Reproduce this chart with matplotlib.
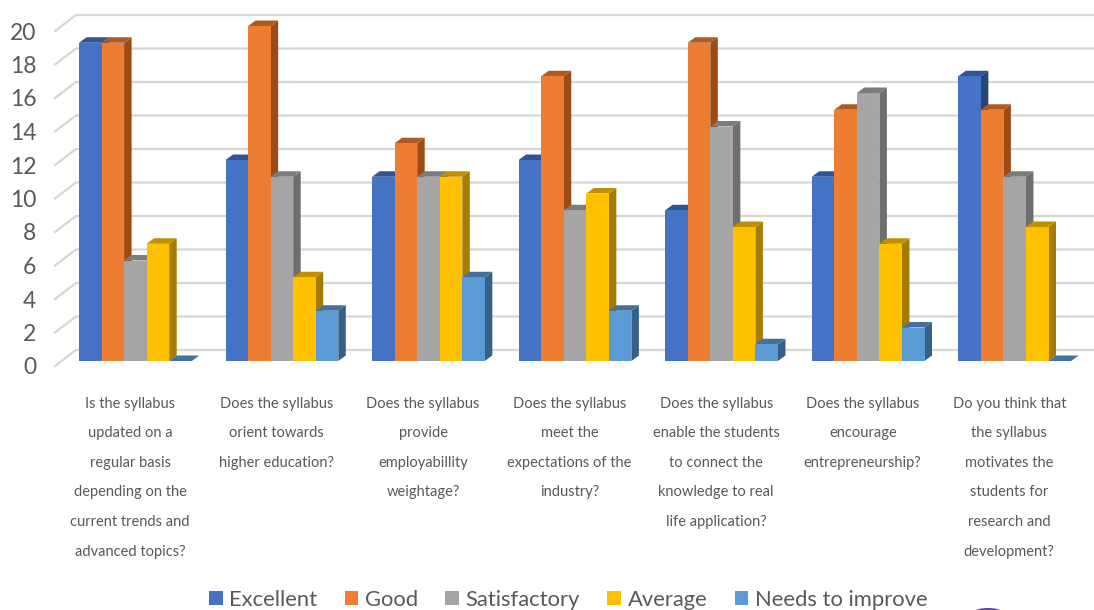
import matplotlib
matplotlib.use("Agg")
import matplotlib.pyplot as plt
from matplotlib.patches import Polygon, Patch, Ellipse

questions = [
    "Is the syllabus\nupdated on a\nregular basis\ndepending on the\ncurrent trends and\nadvanced topics?",
    "Does the syllabus\norient towards\nhigher education?",
    "Does the syllabus\nprovide\nemployabillity\nweightage?",
    "Does the syllabus\nmeet the\nexpectations of the\nindustry?",
    "Does the syllabus\nenable the students\nto connect the\nknowledge to real\nlife application?",
    "Does the syllabus\nencourage\nentrepreneurship?",
    "Do you think that\nthe syllabus\nmotivates the\nstudents for\nresearch and\ndevelopment?",
]
series_names = ["Excellent", "Good", "Satisfactory", "Average", "Needs to improve"]
excellent = [19, 12, 11, 12, 9, 11, 17]
good = [19, 20, 13, 17, 19, 15, 15]
satisfactory = [6, 11, 11, 9, 14, 16, 11]
average = [7, 5, 11, 10, 8, 7, 8]
needs_to_improve = [0, 3, 5, 3, 1, 2, 0]
y_ticks = list(range(0, 21, 2))

all_series = [excellent, good, satisfactory, average, needs_to_improve]
front_colors = ["#4472c4", "#ed7d31", "#a5a5a5", "#ffc000", "#5b9bd5"]
top_colors = ["#2f5597", "#ae5a21", "#7c7c7c", "#bf9000", "#41719c"]
side_colors = ["#264478", "#9e4a14", "#6e6e6e", "#a67c00", "#376088"]

W, H = 1094, 610
PX_X = 146.55   # pixels per category
PX_Y = 16.75    # pixels per value unit

plt.rcParams["font.family"] = ["Lato", "DejaVu Sans"]
fig = plt.figure(figsize=(W / 100, H / 100), dpi=100, facecolor="white")
ax = fig.add_axes([55 / W, (H - 366) / H, (W - 55) / W, 351 / H])
ax.set_xlim((55 - 130) / PX_X, (W - 130) / PX_X)
ax.set_ylim(0, 351 / PX_Y)
for spine in ax.spines.values():
    spine.set_visible(False)

# Receding wall gridlines: a short diagonal on the floor side, then the back wall
wall_dx, wall_dy = 21 / PX_X, 16 / PX_Y
x_wall = (55 - 130) / PX_X
x_end = (W - 130) / PX_X
for v in y_ticks:
    ax.plot([x_wall, x_wall + wall_dx, x_end], [v, v + wall_dy, v + wall_dy],
            color="#d6d6d6", lw=1.6, clip_on=False, zorder=1, solid_joinstyle="miter")

# Extruded bars, painted left to right so each one overlaps its neighbour's side
bar_w = 22.55 / PX_X
first_left = (79 - 130) / PX_X
depth_x, depth_y = 7.5 / PX_X, 5.5 / PX_Y
base = 5 / PX_Y
z = 2
for g in range(len(questions)):
    for s, values in enumerate(all_series):
        v = values[g]
        x0 = g + first_left + s * bar_w
        x1 = x0 + bar_w
        top = base + v
        ax.add_patch(Polygon([(x1, base), (x1 + depth_x, base + depth_y),
                              (x1 + depth_x, top + depth_y), (x1, top)],
                             facecolor=side_colors[s], edgecolor="none",
                             clip_on=False, zorder=z))
        ax.add_patch(Polygon([(x0, top), (x0 + depth_x, top + depth_y),
                              (x1 + depth_x, top + depth_y), (x1, top)],
                             facecolor=top_colors[s], edgecolor="none",
                             clip_on=False, zorder=z))
        ax.bar(x0, v, width=bar_w, bottom=base, align="edge",
               color=front_colors[s], edgecolor="none", clip_on=False, zorder=z)
        z += 1

ax.set_yticks(y_ticks)
ax.set_yticklabels([str(v) for v in y_ticks])
ax.tick_params(axis="y", length=0, pad=13.5, labelsize=16.5, labelcolor="#595959")
ax.set_xticks(range(len(questions)))
ax.set_xticklabels(questions)
ax.tick_params(axis="x", length=0, pad=22, labelsize=10.5, labelcolor="#595959")
for label in ax.get_xticklabels():
    label.set_linespacing(2.42)

handles = [Patch(facecolor=c, edgecolor="none") for c in front_colors]
fig.legend(handles, series_names, loc="lower left", bbox_to_anchor=(209 / W, 0.5 / H),
           ncol=5, frameon=False, fontsize=15.8, labelcolor="#595959",
           handlelength=0.62, handleheight=0.62, handletextpad=0.3,
           columnspacing=1.25, borderpad=0, borderaxespad=0)

# Sliver of a round emblem along the lower edge
fig.add_artist(Ellipse((988 / W, (H - 612) / H), 28 / W, 8 / H,
                       transform=fig.transFigure, facecolor="#5b4a9c", edgecolor="none"))

fig.savefig("out.png", dpi=100, facecolor="white")
